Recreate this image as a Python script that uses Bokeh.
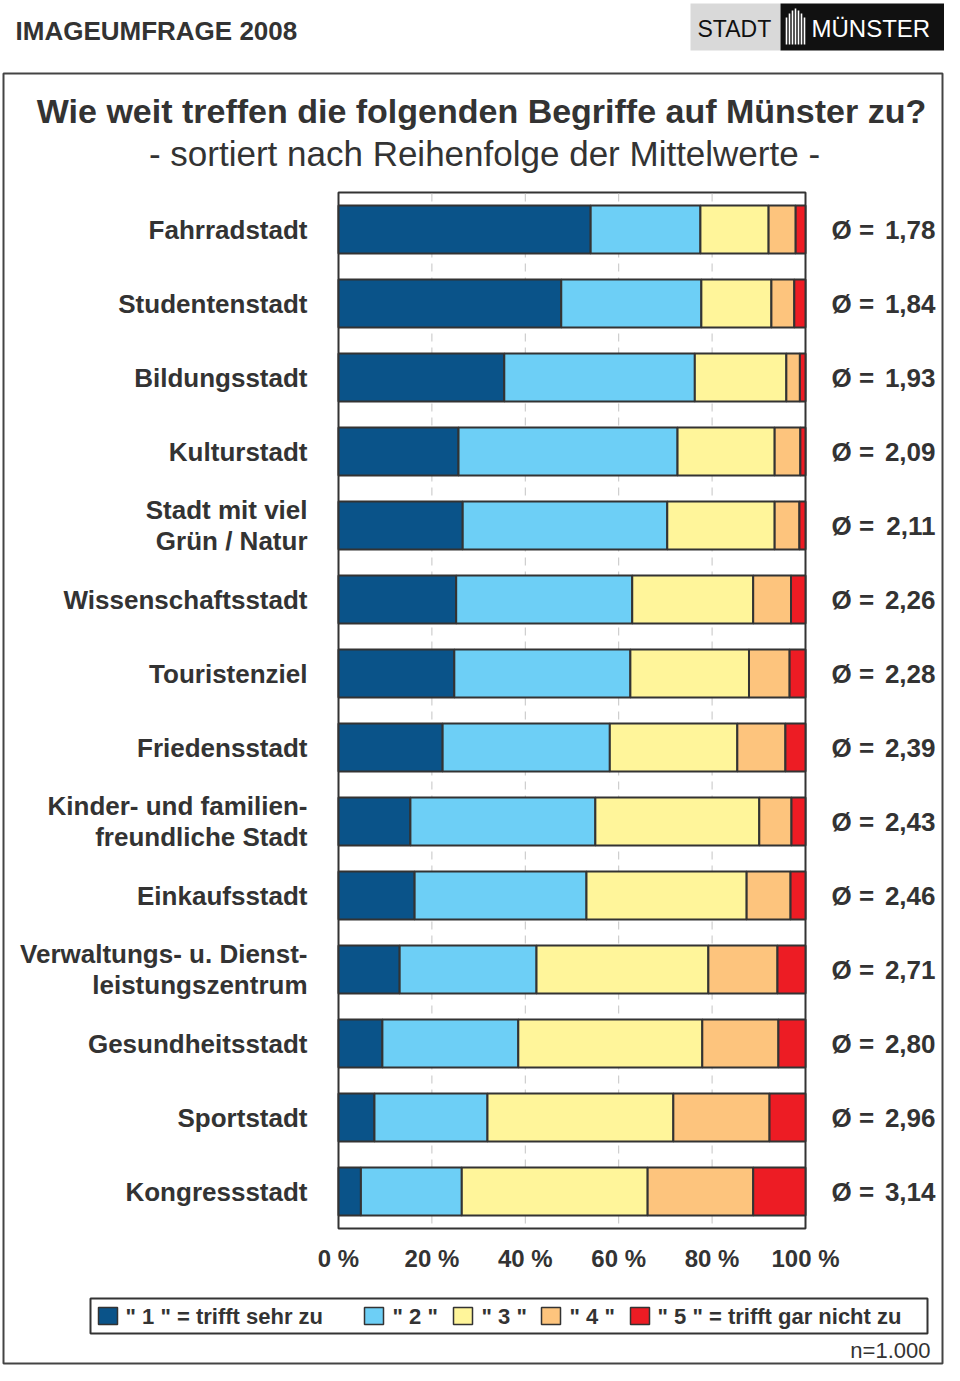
from bokeh.plotting import figure
from bokeh.models import ColumnDataSource, Range1d
from bokeh.core.properties import value
from bokeh.embed import file_html
from bokeh.resources import INLINE

# ---------------- data ----------------
categories = ["Fahrradstadt", "Studentenstadt", "Bildungsstadt", "Kulturstadt",
              "Stadt mit viel\nGrün / Natur", "Wissenschaftsstadt", "Touristenziel",
              "Friedensstadt", "Kinder- und familien-\nfreundliche Stadt", "Einkaufsstadt",
              "Verwaltungs- u. Dienst-\nleistungszentrum", "Gesundheitsstadt",
              "Sportstadt", "Kongressstadt"]
s1 = [54.0, 47.7, 35.5, 25.7, 26.6, 25.2, 24.8, 22.3, 15.4, 16.3, 13.1, 9.4, 7.7, 4.8]
s2 = [23.5, 30.0, 40.8, 46.9, 43.8, 37.7, 37.7, 35.8, 39.6, 36.8, 29.3, 29.1, 24.2, 21.6]
s3 = [14.6, 15.0, 19.6, 20.8, 23.0, 25.9, 25.4, 27.3, 35.1, 34.3, 36.8, 39.4, 39.8, 39.8]
s4 = [5.8, 4.9, 2.9, 5.5, 5.3, 8.1, 8.7, 10.3, 6.9, 9.4, 14.8, 16.3, 20.6, 22.6]
s5 = [2.1, 2.4, 1.2, 1.1, 1.3, 3.1, 3.4, 4.3, 3.0, 3.2, 6.0, 5.8, 7.7, 11.2]
means = [1.78, 1.84, 1.93, 2.09, 2.11, 2.26, 2.28, 2.39, 2.43, 2.46, 2.71, 2.80, 2.96, 3.14]
x_ticks = [0, 20, 40, 60, 80, 100]
legend_labels = ['" 1 " = trifft sehr zu', '" 2 "', '" 3 "', '" 4 "', '" 5 " = trifft gar nicht zu']
colors = ["#0a5389", "#6dcff6", "#fff59a", "#fdc47d", "#ed1c24"]

TXT = "#333333"
EDGE = "#333333"
FONT = value("Liberation Sans")

# ------------- layout helpers (reference-pixel -> data units) -------------
X0, XS = 338.0, 4.67      # 0 % position, px per %
Y0, YS = 229.0, 74.0      # first row centre, px per row
def fx(px):
    return (px - X0) / XS
def fy(py):
    return (py - Y0) / YS

W, H = 944, 1365
p = figure(width=W, height=H, output_backend="svg", toolbar_location=None,
           x_range=Range1d(fx(0), fx(W)), y_range=Range1d(fy(H), fy(0)),
           x_axis_location=None, y_axis_location=None, min_border=0,
           outline_line_color=None, background_fill_color="white",
           border_fill_color="white")
p.xgrid.visible = False
p.ygrid.visible = False

# outer box
p.quad(left=[fx(3)], right=[fx(942)], top=[fy(73)], bottom=[fy(1363)],
       fill_color=None, line_color="#444444", line_width=2)

# header
p.text(x=[fx(15)], y=[fy(30)], text=["IMAGEUMFRAGE 2008"], text_font=FONT,
       text_font_style="bold", text_font_size="26px", text_color=TXT,
       text_align="left", text_baseline="middle")

# logo
p.quad(left=[fx(690)], right=[fx(780)], top=[fy(3)], bottom=[fy(50)],
       fill_color="#d9d9d9", line_color=None)
p.quad(left=[fx(780)], right=[fx(944)], top=[fy(3)], bottom=[fy(50)],
       fill_color="#111111", line_color=None)
p.text(x=[fx(697)], y=[fy(28)], text=["STADT"], text_font=FONT,
       text_font_size="23px", text_color="#111111", text_align="left",
       text_baseline="middle")
p.text(x=[fx(811)], y=[fy(28)], text=["MÜNSTER"], text_font=FONT,
       text_font_size="24px", text_color="white", text_align="left",
       text_baseline="middle")
sx = [786, 789, 792, 795, 798, 801, 804]
st = [17, 13, 10, 8, 10, 13, 17]
p.segment(x0=[fx(v) for v in sx], x1=[fx(v) for v in sx],
          y0=[fy(v) for v in st], y1=[fy(44)] * len(sx),
          line_color="white", line_width=1.6)

# titles
p.text(x=[fx(481)], y=[fy(110)], text=["Wie weit treffen die folgenden Begriffe auf Münster zu?"],
       text_font=FONT, text_font_style="bold", text_font_size="34px", text_color=TXT,
       text_align="center", text_baseline="middle")
p.text(x=[fx(484)], y=[fy(153)], text=["- sortiert nach Reihenfolge der Mittelwerte -"],
       text_font=FONT, text_font_size="35px", text_color=TXT,
       text_align="center", text_baseline="middle")

# plot frame + grid
n = len(categories)
p.quad(left=[0], right=[100], top=[fy(192)], bottom=[fy(1228)],
       fill_color="white", line_color=EDGE, line_width=2)
p.segment(x0=x_ticks[1:-1], x1=x_ticks[1:-1], y0=[fy(193)] * 4, y1=[fy(1227)] * 4,
          line_color="#c4c4c4", line_width=1, line_dash="8 6")

# stacked bars
src = ColumnDataSource(dict(row=list(range(n)), s1=s1, s2=s2, s3=s3, s4=s4, s5=s5))
p.hbar_stack(["s1", "s2", "s3", "s4", "s5"], y="row", height=48 / YS, color=colors,
             source=src, line_color=EDGE, line_width=2)

# category labels
p.text(x=[fx(307)] * n, y=list(range(n)), text=categories, text_font=FONT,
       text_font_style="bold", text_font_size="26px", text_color=TXT,
       text_align="right", text_baseline="middle", text_line_height=1.03)

# mean labels
p.text(x=[fx(831)] * n, y=list(range(n)), text=["Ø ="] * n, text_font=FONT,
       text_font_style="bold", text_font_size="26px", text_color=TXT,
       text_align="left", text_baseline="middle")
p.text(x=[fx(935)] * n, y=list(range(n)), text=[f"{m:.2f}".replace(".", ",") for m in means],
       text_font=FONT, text_font_style="bold", text_font_size="26px", text_color=TXT,
       text_align="right", text_baseline="middle")

# x tick labels
p.text(x=x_ticks, y=[fy(1258)] * len(x_ticks), text=[f"{t} %" for t in x_ticks],
       text_font=FONT, text_font_style="bold", text_font_size="24px", text_color=TXT,
       text_align="center", text_baseline="middle")

# legend
p.quad(left=[fx(90)], right=[fx(927)], top=[fy(1298)], bottom=[fy(1333)],
       fill_color="white", line_color=EDGE, line_width=2)
sq_left = [98, 364, 453, 541, 630]
txt_left = [125, 392, 481, 569, 657]
p.quad(left=[fx(v) for v in sq_left], right=[fx(v + 19) for v in sq_left],
       top=[fy(1307)] * 5, bottom=[fy(1324)] * 5, fill_color=colors,
       line_color=EDGE, line_width=1.5)
p.text(x=[fx(v) for v in txt_left], y=[fy(1316)] * 5, text=legend_labels,
       text_font=FONT, text_font_style="bold", text_font_size="22px", text_color=TXT,
       text_align="left", text_baseline="middle")

# n
p.text(x=[fx(930)], y=[fy(1350)], text=["n=1.000"], text_font=FONT,
       text_font_size="22px", text_color=TXT, text_align="right", text_baseline="middle")

open("out.html", "w").write(file_html(p, INLINE))
